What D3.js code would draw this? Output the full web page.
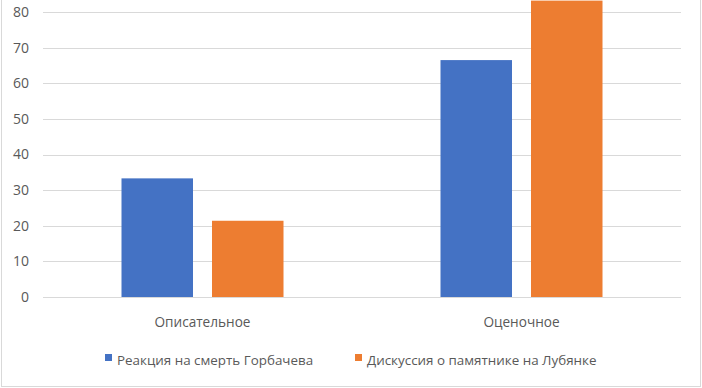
<!DOCTYPE html>
<html>
<head>
<meta charset="utf-8">
<script src="https://cdn.jsdelivr.net/npm/d3@7"></script>
<style>
  html, body { margin: 0; padding: 0; background: #fff; }
  svg { display: block; }
  text { font-family: "Open Sans", sans-serif; fill: #595959; }
</style>
</head>
<body>
<div id="chart"></div>
<script>
var categories = ["Описательное", "Оценочное"];
var seriesNames = ["Реакция на смерть Горбачева", "Дискуссия о памятнике на Лубянке"];
var gorbachev = [33.3, 66.5];
var lubyanka = [21.4, 83.2];
var yTicks = [0, 10, 20, 30, 40, 50, 60, 70, 80];
var colors = ["#4472c4", "#ed7d31"];

var width = 702, height = 388;
var left = 43, right = 681, zeroY = 297, topY = 12;

var svg = d3.select("#chart").append("svg")
  .attr("width", width)
  .attr("height", height);

// chart frame
svg.append("rect")
  .attr("x", 1.5).attr("y", -5)
  .attr("width", 699).attr("height", 391.5)
  .attr("fill", "#fff")
  .attr("stroke", "#d9d9d9");

var y = d3.scaleLinear().domain([0, 80]).range([zeroY, topY]);

var x0 = d3.scaleBand().domain(categories).range([left, right]);
var groupW = 162;
var x1 = d3.scaleBand().domain(seriesNames).range([0, groupW]).paddingInner(0.21);

// gridlines
svg.append("g").selectAll("line")
  .data(yTicks)
  .join("line")
  .attr("x1", left).attr("x2", right)
  .attr("y1", function(d) { return Math.round(y(d)) + 0.5; })
  .attr("y2", function(d) { return Math.round(y(d)) + 0.5; })
  .attr("stroke", "#d9d9d9")
  .attr("stroke-width", 1);

// y labels
var yAxis = d3.axisLeft(y).tickValues(yTicks).tickSize(0).tickPadding(0);
var ya = svg.append("g")
  .attr("transform", "translate(29,0)")
  .call(yAxis);
ya.select(".domain").remove();
ya.selectAll("text")
  .style("font-size", "14px")
  .style("font-family", "'Open Sans', sans-serif")
  .attr("fill", "#595959");

var table = categories.map(function(c, i) {
  return { cat: c, vals: [gorbachev[i], lubyanka[i]] };
});

var groups = svg.append("g").selectAll("g")
  .data(table)
  .join("g")
  .attr("transform", function(d) {
    return "translate(" + (x0(d.cat) + (x0.bandwidth() - groupW) / 2) + ",0)";
  });

groups.selectAll("rect")
  .data(function(d) { return d.vals.map(function(v, j) { return { s: seriesNames[j], v: v, j: j }; }); })
  .join("rect")
  .attr("x", function(d) { return x1(d.s); })
  .attr("width", x1.bandwidth())
  .attr("y", function(d) { return y(d.v); })
  .attr("height", function(d) { return zeroY - y(d.v); })
  .attr("fill", function(d) { return colors[d.j]; });

// category labels
svg.append("g").selectAll("text")
  .data(categories)
  .join("text")
  .attr("x", function(d) { return x0(d) + x0.bandwidth() / 2; })
  .attr("y", 327)
  .attr("text-anchor", "middle")
  .style("font-size", "13.6px")
  .text(function(d) { return d; });

// legend
var legendX = [105, 355];
var lg = svg.append("g").selectAll("g")
  .data(seriesNames)
  .join("g")
  .attr("transform", function(d, i) { return "translate(" + legendX[i] + ",0)"; });
lg.append("rect")
  .attr("x", 0).attr("y", 354)
  .attr("width", 7).attr("height", 7)
  .attr("fill", function(d, i) { return colors[i]; });
lg.append("text")
  .attr("x", 12).attr("y", 365)
  .style("font-size", "13.4px")
  .text(function(d) { return d; });
</script>
</body>
</html>
